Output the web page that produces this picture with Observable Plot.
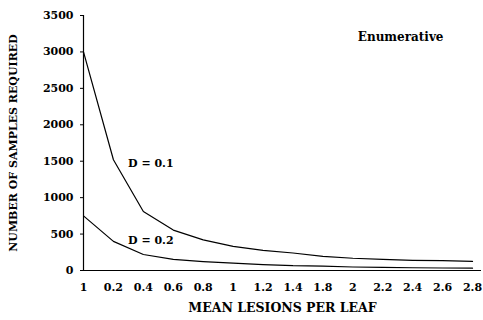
<!DOCTYPE html>
<html>
<head>
<meta charset="utf-8">
<script src="https://cdn.jsdelivr.net/npm/d3@7"></script>
<script src="https://cdn.jsdelivr.net/npm/@observablehq/plot@0.6"></script>
<style>
  html, body { margin: 0; padding: 0; background: #fff; }
  #chart svg { display: block; }
  #chart g[aria-label="x-axis label"] text { font-size: 12.5px; }
</style>
</head>
<body>
<div id="chart"></div>
<script>
// Category labels on the x axis (as printed)
const xLabels = ["1", "0.2", "0.4", "0.6", "0.8", "1", "1.2", "1.4", "1.8", "2", "2.2", "2.4", "2.6", "2.8"];
// Series values
const seriesD01 = [3000, 1520, 810, 555, 420, 330, 275, 240, 195, 168, 154, 140, 135, 125];
const seriesD02 = [750, 400, 220, 152, 122, 100, 82, 66, 60, 48, 42, 38, 34, 32];
const seriesNames = ["D = 0.1", "D = 0.2"];
const yTicks = [0, 500, 1000, 1500, 2000, 2500, 3000, 3500];

const rows = [];
xLabels.forEach((lab, i) => {
  rows.push({i, series: seriesNames[0], value: seriesD01[i]});
  rows.push({i, series: seriesNames[1], value: seriesD02[i]});
});

// label placement (in data units)
const annotations = [
  {text: seriesNames[0], i: 2.25, value: 1470},
  {text: seriesNames[1], i: 2.25, value: 410}
];

const chart = Plot.plot({
  width: 483,
  height: 320,
  marginLeft: 83,
  marginRight: 2,
  marginTop: 15,
  marginBottom: 50,
  style: {fontFamily: "'DejaVu Serif', serif", fontWeight: "bold", fontSize: "11px", background: "#fff", color: "#000"},
  x: {domain: [0, 13.3], ticks: d3.range(xLabels.length), tickFormat: i => xLabels[i], tickSize: 0, tickPadding: 13,
      label: "MEAN LESIONS PER LEAF", labelAnchor: "center", labelOffset: 41, labelArrow: "none"},
  y: {domain: [0, 3500], ticks: yTicks, tickFormat: d => String(d), tickSize: 3, tickPadding: 7,
      label: "NUMBER OF SAMPLES REQUIRED", labelAnchor: "center", labelOffset: 74, labelArrow: "none"},
  marks: [
    Plot.ruleY([0], {stroke: "#000", strokeWidth: 1}),
    Plot.ruleX([0], {stroke: "#000", strokeWidth: 1.2}),
    Plot.line(rows, {x: "i", y: "value", z: "series", stroke: "#000", strokeWidth: 1.2}),
    Plot.text(annotations, {x: "i", y: "value", text: "text", fontSize: 11, fontWeight: "bold"}),
    Plot.text(["Enumerative"], {frameAnchor: "top-right", dx: -38, dy: 17, fontSize: 12, fontWeight: "bold"})
  ]
});
document.getElementById("chart").appendChild(chart);
</script>
</body>
</html>
